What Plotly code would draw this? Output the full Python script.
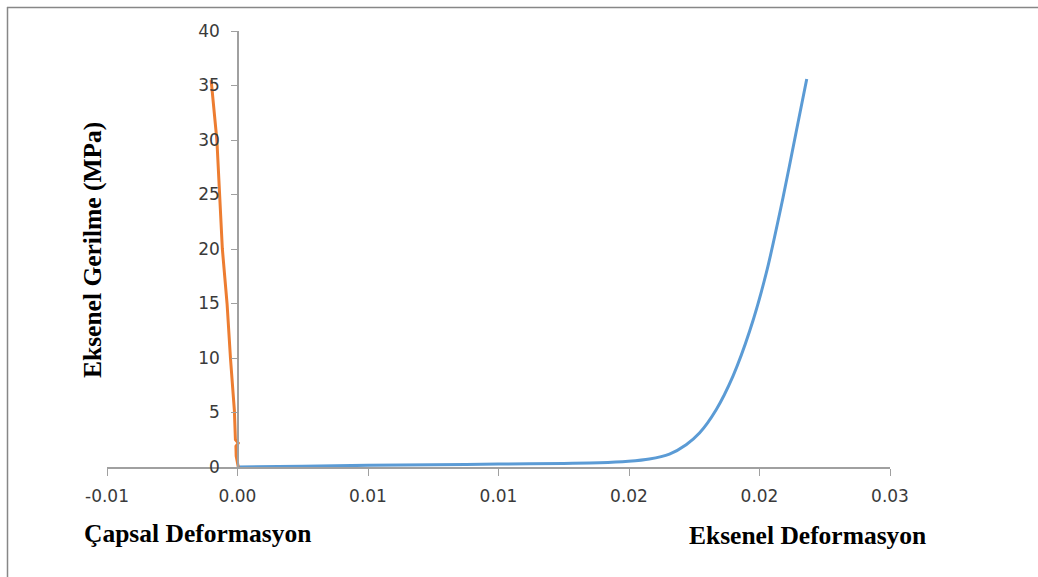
import plotly.graph_objects as go

# Eksenel (axial) deformation curve
axial_strain = [0.0, 0.0025, 0.005, 0.0075, 0.01, 0.0125, 0.01387, 0.01498, 0.01578,
                0.01655, 0.01719, 0.0177, 0.01834, 0.01898, 0.01962, 0.02026, 0.0209,
                0.02141, 0.02181]
axial_stress = [0.0, 0.08, 0.15, 0.21, 0.27, 0.33, 0.38, 0.52, 0.73,
                1.19, 2.05, 3.12, 5.26, 8.32, 12.45, 17.8, 24.7,
                30.8, 35.6]

# Çapsal (diametral) deformation curve
diam_strain = [0.00003, -0.00005, -0.00006, 0.00003, -0.00008, -0.00012, -0.00027,
               -0.0004, -0.00058, -0.00068, -0.00079, -0.00101]
diam_stress = [0.0, 1.0, 1.9, 2.2, 2.5, 5.2, 10.0, 15.0, 20.0, 25.0, 30.0, 35.5]

x_tickvals = [-0.005, 0.0, 0.005, 0.01, 0.015, 0.02, 0.025]
x_ticktext = ["-0.01", "0.00", "0.01", "0.01", "0.02", "0.02", "0.03"]
y_tickvals = [0, 5, 10, 15, 20, 25, 30, 35, 40]

W, H = 1038, 577
L, R, T, B = 107, 148, 31, 110
pw, ph = W - L - R, H - T - B

def px(xp):
    return (xp - L) / pw

def py(yp):
    return (H - B - yp) / ph

fig = go.Figure()
fig.add_trace(go.Scatter(x=axial_strain, y=axial_stress, mode="lines",
                         line=dict(color="#5B9BD5", width=3, shape="spline", smoothing=0.8),
                         showlegend=False))
fig.add_trace(go.Scatter(x=diam_strain, y=diam_stress, mode="lines",
                         line=dict(color="#ED7D31", width=3),
                         showlegend=False))

tickfont = dict(family="DejaVu Sans", size=17, color="#3a3a3a")
titlefont = dict(family="Liberation Serif", size=25.5, color="black", weight="bold")
fig.update_layout(
    width=W, height=H,
    margin=dict(l=L, r=R, t=T, b=B),
    paper_bgcolor="white", plot_bgcolor="white",
    xaxis=dict(range=[-0.005, 0.025], tickvals=x_tickvals, ticktext=x_ticktext,
               showgrid=False, zeroline=False, showline=True, linecolor="#a0a0a0",
               linewidth=1.5, ticks="outside", ticklen=7, tickcolor="#a0a0a0",
               tickfont=tickfont, ticklabelstandoff=6),
    yaxis=dict(range=[0, 40], tickvals=y_tickvals, showgrid=False, zeroline=False,
               showline=True, linecolor="#a0a0a0", linewidth=1.5, ticks="outside",
               ticklen=6, tickcolor="#a0a0a0", tickfont=tickfont,
               anchor="free", position=px(238), ticklabelstandoff=8),
    annotations=[
        dict(text="Çapsal Deformasyon", xref="paper", yref="paper", x=px(82), y=py(533),
             xanchor="left", yanchor="middle", showarrow=False, font=titlefont),
        dict(text="Eksenel Deformasyon", xref="paper", yref="paper", x=px(687), y=py(535),
             xanchor="left", yanchor="middle", showarrow=False, font=titlefont),
        dict(text="Eksenel Gerilme (MPa)", xref="paper", yref="paper", x=px(93), y=py(250),
             xanchor="center", yanchor="middle", showarrow=False, textangle=-90,
             font=titlefont),
    ],
    shapes=[
        dict(type="line", xref="paper", yref="paper", x0=px(7), x1=px(W + 5), y0=py(7.5), y1=py(7.5),
             line=dict(color="#878787", width=1.5)),
        dict(type="line", xref="paper", yref="paper", x0=px(7.5), x1=px(7.5), y0=py(7), y1=py(H + 5),
             line=dict(color="#878787", width=1.5)),
    ],
)

fig.write_html("out.html", config={"displayModeBar": False},
               post_script="document.body.style.margin='0';document.body.style.overflow='hidden';")
